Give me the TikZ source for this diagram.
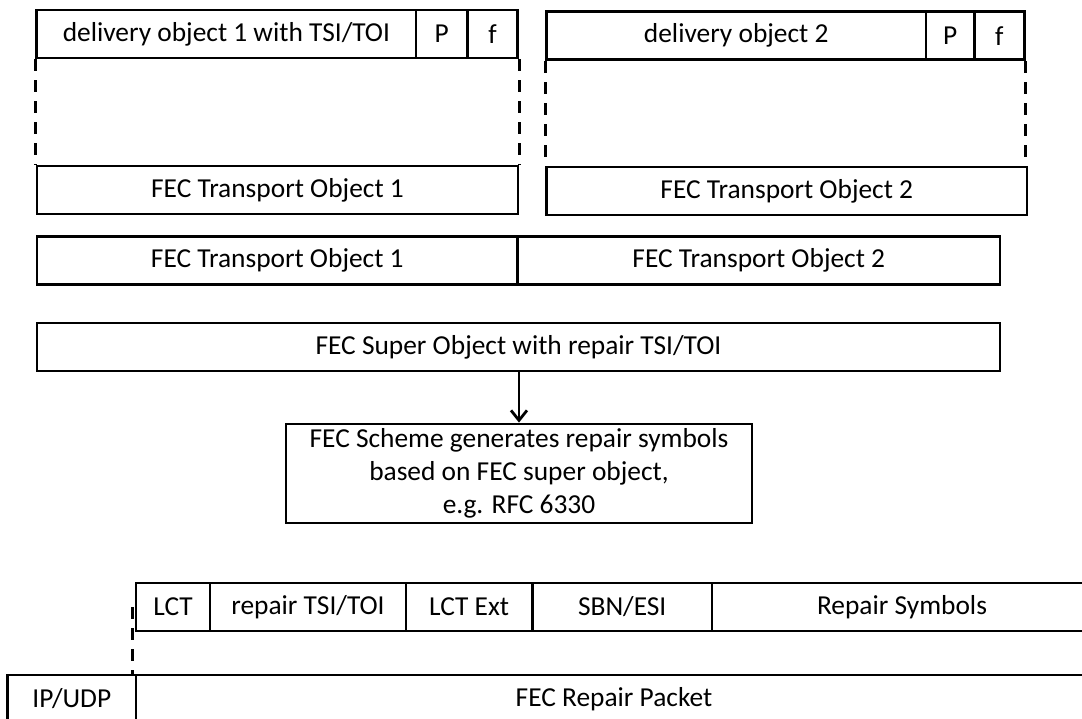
\documentclass[tikz,border=0pt]{standalone}
\usepackage{fontspec}
\setmainfont{Carlito}
\usetikzlibrary{arrows.meta,positioning}

\begin{document}
\begin{tikzpicture}[x=1pt, y=-1pt,
	box/.style={draw, line width=2.8pt, rectangle, inner sep=0pt, minimum height=48pt},
	dashline/.style={line width=3pt, dash pattern=on 12pt off 9pt}]
	\tikzstyle{every node}=[font=\fontsize{27.4}{33}\selectfont]
	\useasboundingbox (0,0) rectangle (1082,719);
	\clip (0,0) rectangle (1082,719);
	% delivery objects
	\node [box, minimum width=379.2pt] (del1) at (226.4,34) {delivery object 1 with TSI/TOI};
	\node [box, minimum width=51.3pt] (p1) at (441.7,34) {P};
	\node [box, minimum width=50.3pt] (f1) at (492.6,34) {f};
	\node [box, minimum width=379.5pt] (del2) at (736.2,35.8) {delivery object 2};
	\node [box, minimum width=48.2pt] (p2) at (950.1,35.8) {P};
	\node [box, minimum width=50.3pt] (f2) at (999.4,35.8) {f};
	% FEC transport objects
	\node [box, minimum width=481pt] (fto1a) at (277.5,190) {FEC Transport Object 1};
	\node [box, minimum width=480.5pt] (fto2a) at (786.8,191) {FEC Transport Object 2};
	\draw [dashline] (del1.south west) -- (del1.south west |- fto1a.north);
	\draw [dashline] (f1.south east) -- (f1.south east |- fto1a.north);
	\draw [dashline] (del2.south west) -- (del2.south west |- fto2a.north);
	\draw [dashline] (f2.south east) -- (f2.south east |- fto2a.north);
	\node [box, minimum width=480.6pt] (fto1b) at (277.3,260.7) {FEC Transport Object 1};
	\node [box, minimum width=482.4pt] (fto2b) at (758.8,260.7) {FEC Transport Object 2};
	% super object and FEC scheme
	\node [box, minimum width=963pt] (super) at (518.5,347) {FEC Super Object with repair TSI/TOI};
	\node [box, minimum width=466pt, minimum height=99pt, align=center] (scheme) at (519,473.5)
		{FEC Scheme generates repair symbols\\based on FEC super object,\\e.g. RFC 6330};
	\draw [line width=2.8pt, -{Straight Barb[length=10pt, width=16pt]}] (super.south -| scheme.north) -- (scheme.north);
	% repair packet
	\node [box, minimum width=74pt] (lct) at (173,607) {LCT};
	\node [box, minimum width=196pt] (rtsi) at (308,607) {repair TSI/TOI};
	\node [box, minimum width=126.5pt] (lext) at (469.2,607) {LCT Ext};
	\node [box, minimum width=179.5pt] (sbn) at (622.2,607) {SBN/ESI};
	\node [box, minimum width=380pt] (rsym) at (902,607) {Repair Symbols};
	\node [box, minimum width=128.4pt] (ipudp) at (71.8,699) {IP/UDP};
	\node [box, minimum width=956pt] (pkt) at (614,699) {FEC Repair Packet};
	\draw [dashline] ([xshift=-2pt]lct.west) -- ([xshift=-2pt]lct.west |- pkt.north);
\end{tikzpicture}
\end{document}
